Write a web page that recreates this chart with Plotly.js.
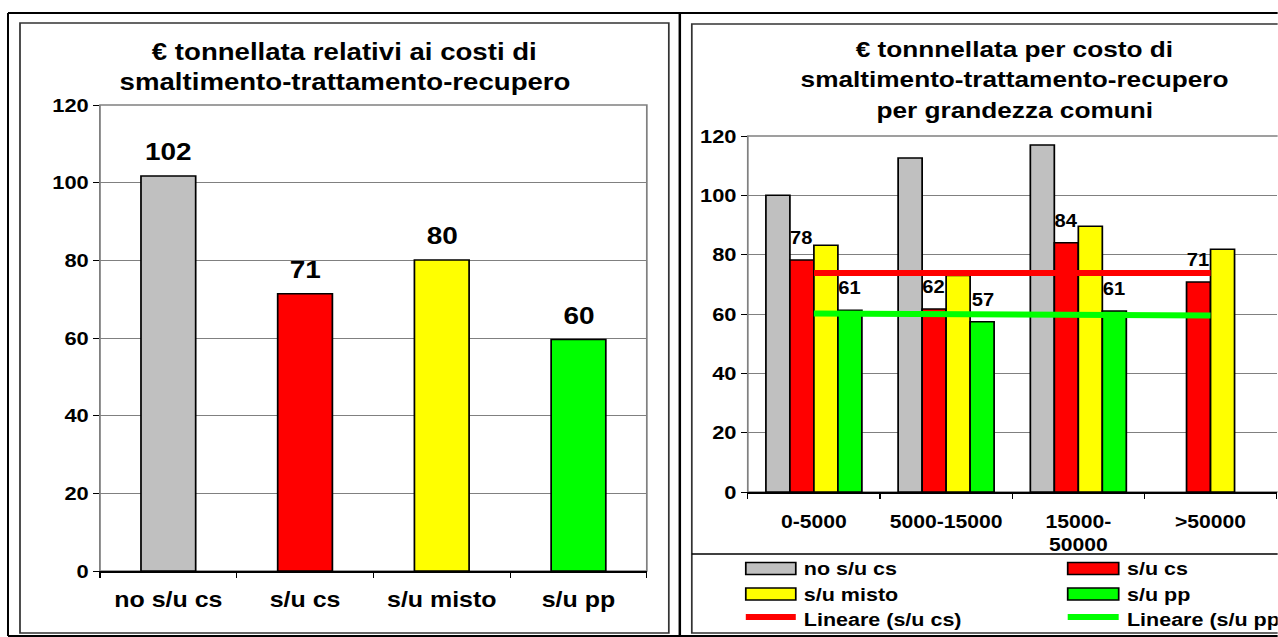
<!DOCTYPE html>
<html><head><meta charset="utf-8">
<script src="https://cdn.plot.ly/plotly-3.0.1.min.js"></script>
<style>
html,body{margin:0;padding:0;background:#fff;overflow:hidden;width:1278px;height:637px}
#chart{height:637px;transform-origin:0 0;}
</style></head><body><div id="chart"></div>
<script>
// horizontal stretch of the original picture
const STRETCH = 1.15;
const PAGE_W = 1278, PAGE_H = 637;
const W = PAGE_W / STRETCH;
const FONT = 'Liberation Sans, Arial, sans-serif';

// ---- left chart data ----
const leftTitleLines = ['€ tonnellata relativi ai costi di', 'smaltimento-trattamento-recupero'];
const leftCategories = ['no s/u cs', 's/u cs', 's/u misto', 's/u pp'];
const leftValues = [101.7, 71.4, 80.1, 59.6];
const leftColors = ['#C0C0C0', '#FF0000', '#FFFF00', '#00FF00'];

// ---- right chart data ----
const rightTitleLines = ['€ tonnnellata per costo di', 'smaltimento-trattamento-recupero', 'per grandezza comuni'];
const sizeCategories = ['0-5000', '5000-15000', '15000-<br>50000', '>50000'];
const noSuCs = [100, 112.6, 117, null];
const suCs = [78.2, 61.7, 84.0, 70.8];
const suMisto = [83.2, 73, 89.6, 81.8];
const suPp = [61.3, 57.4, 61.0, null];
const trendSuCs = [73.8, 73.8];   // Lineare (s/u cs) at first / last category
const trendSuPp = [60.2, 59.5];   // Lineare (s/u pp) at first / last category
const yTicks = [0, 20, 40, 60, 80, 100, 120];

const seriesNames = ['no s/u cs', 's/u cs', 's/u misto', 's/u pp', 'Lineare (s/u cs)', 'Lineare (s/u pp)'];
const seriesColors = ['#C0C0C0', '#FF0000', '#FFFF00', '#00FF00', '#FF0000', '#00FF00'];

document.getElementById('chart').style.width = W + 'px';
document.getElementById('chart').style.transform = 'scaleX(' + STRETCH + ')';

const fx = x => x / PAGE_W;
const fy = y => 1 - y / PAGE_H;
const bold = (size) => ({size: size, family: FONT, weight: 700, color: '#000'});

const barLine = {color: '#000', width: 1.5};
const traces = [];
traces.push({type: 'bar', x: leftCategories, y: leftValues, width: 0.4,
  marker: {color: leftColors, line: barLine}, xaxis: 'x', yaxis: 'y', hoverinfo: 'skip'});
const rightSeries = [noSuCs, suCs, suMisto, suPp];
rightSeries.forEach((vals, i) => {
  traces.push({type: 'bar', name: seriesNames[i], x: sizeCategories, y: vals,
    marker: {color: seriesColors[i], line: barLine}, xaxis: 'x2', yaxis: 'y2', hoverinfo: 'skip'});
});
traces.push({type: 'scatter', mode: 'lines', name: seriesNames[4],
  x: [sizeCategories[0], sizeCategories[sizeCategories.length - 1]], y: trendSuCs,
  line: {color: seriesColors[4], width: 6}, xaxis: 'x2', yaxis: 'y2', hoverinfo: 'skip'});
traces.push({type: 'scatter', mode: 'lines', name: seriesNames[5],
  x: [sizeCategories[0], sizeCategories[sizeCategories.length - 1]], y: trendSuPp,
  line: {color: seriesColors[5], width: 6}, xaxis: 'x2', yaxis: 'y2', hoverinfo: 'skip'});

const BARGAP = 0.274;
const dom1 = [fx(100), fx(647)], dom2 = [fx(748), fx(1277)];
const annotations = [];
// titles (one annotation per line to control line spacing)
const leftTitleY = [52, 82];
leftTitleLines.forEach((t, i) => annotations.push({xref: 'paper', yref: 'paper', x: fx(345), y: fy(leftTitleY[i]),
  xanchor: 'center', yanchor: 'middle', text: t, showarrow: false, font: bold(24)}));
const rightTitleY = [49, 79.5, 110];
rightTitleLines.forEach((t, i) => annotations.push({xref: 'paper', yref: 'paper', x: fx(1015), y: fy(rightTitleY[i]),
  xanchor: 'center', yanchor: 'middle', text: t, showarrow: false, font: bold(22.8)}));
// left value labels
leftValues.forEach((v, i) => annotations.push({xref: 'x', yref: 'y', x: leftCategories[i], y: v,
  text: String(Math.round(v)), showarrow: false, yanchor: 'bottom', yshift: 9, font: bold(24.3)}));
// right value labels (s/u cs and s/u pp)
const catW = (dom2[1] - dom2[0]) * W / sizeCategories.length;
const barW = catW * (1 - BARGAP) / 4;
[[suCs, 1], [suPp, 3]].forEach(([vals, slot]) => {
  vals.forEach((v, i) => {
    if (v == null) return;
    annotations.push({xref: 'x2', yref: 'y2', x: sizeCategories[i], y: v,
      xshift: (slot - 1.5) * barW, text: String(Math.round(v)), showarrow: false,
      yanchor: 'bottom', yshift: 10, font: bold(17.5)});
  });
});

// custom legend
const shapes = [];
const legRows = [568.5, 594, 619];
const legSym = [[746, 796], [1068, 1119]];
const legText = [802, 1125];
seriesNames.forEach((n, i) => {
  const col = i % 2, row = Math.floor(i / 2);
  const yc = legRows[row];
  if (i < 4) {
    shapes.push({type: 'rect', xref: 'paper', yref: 'paper', x0: fx(legSym[col][0]), x1: fx(legSym[col][1]),
      y0: fy(yc + 6), y1: fy(yc - 6), fillcolor: seriesColors[i], line: {color: '#000', width: 1.5}});
  } else {
    shapes.push({type: 'line', xref: 'paper', yref: 'paper', x0: fx(legSym[col][0]), x1: fx(legSym[col][1]),
      y0: fy(yc - 2), y1: fy(yc - 2), line: {color: seriesColors[i], width: 6}});
  }
  annotations.push({xref: 'paper', yref: 'paper', x: fx(legText[col]), y: fy(yc), xanchor: 'left', yanchor: 'middle',
    text: n, showarrow: false, font: bold(18.7)});
});

// frames
const vw = w => w / STRETCH;
shapes.push({type: 'line', xref: 'paper', yref: 'paper', x0: fx(8), x1: 1.2, y0: fy(13), y1: fy(13), line: {color: '#000', width: 2}});
shapes.push({type: 'line', xref: 'paper', yref: 'paper', x0: fx(8), x1: fx(8), y0: fy(13), y1: fy(636), line: {color: '#000', width: vw(2)}});
shapes.push({type: 'line', xref: 'paper', yref: 'paper', x0: fx(680), x1: fx(680), y0: fy(13), y1: fy(640), line: {color: '#000', width: vw(2.5)}});
shapes.push({type: 'line', xref: 'paper', yref: 'paper', x0: fx(8), x1: 1.2, y0: fy(636), y1: fy(636), line: {color: '#000', width: 2}});
shapes.push({type: 'rect', xref: 'paper', yref: 'paper', x0: fx(20), x1: fx(669), y0: fy(633), y1: fy(23), line: {color: '#333', width: 1.5}});
shapes.push({type: 'rect', xref: 'paper', yref: 'paper', x0: fx(692), x1: 1.2, y0: fy(633), y1: fy(24), line: {color: '#333', width: 1.5}});
shapes.push({type: 'line', xref: 'paper', yref: 'paper', x0: fx(692), x1: 1.2, y0: fy(554), y1: fy(554), line: {color: '#000', width: 1.5}});
// plot area borders
shapes.push({type: 'rect', xref: 'x domain', yref: 'y domain', x0: 0, x1: 1, y0: 0, y1: 1, line: {color: '#808080', width: 1.5}, layer: 'below'});
shapes.push({type: 'rect', xref: 'x2 domain', yref: 'y2 domain', x0: 0, x1: 1.5, y0: 0, y1: 1, line: {color: '#808080', width: 1.5}, layer: 'below'});

const xAx = (dom, anchor, fs, standoff) => ({domain: dom, anchor: anchor, type: 'category', showgrid: false,
  linecolor: '#000', linewidth: 1.5, ticks: 'outside', ticklen: 5, tickcolor: '#000', tickwidth: 1,
  tickson: 'boundaries', tickfont: bold(fs),
  ticklabelstandoff: standoff, fixedrange: true, zeroline: false});
const yAx = (dom, anchor) => ({domain: dom, anchor: anchor, range: [0, 120], tickvals: yTicks,
  showgrid: true, gridcolor: '#808080', gridwidth: 1, showline: true, linecolor: '#808080', linewidth: 1,
  ticks: 'outside', ticklen: 5, tickcolor: '#000', tickfont: bold(19),
  zeroline: false, fixedrange: true});

const layout = {
  width: W, height: PAGE_H, margin: {l: 0, r: 0, t: 0, b: 0},
  paper_bgcolor: '#fff', plot_bgcolor: '#fff', showlegend: false,
  barmode: 'group', bargap: BARGAP, bargroupgap: 0,
  font: {family: FONT, color: '#000'},
  xaxis: xAx(dom1, 'y', 21.7, 8),
  yaxis: yAx([fy(571), fy(105)], 'x'),
  xaxis2: xAx(dom2, 'y2', 18.4, 12),
  yaxis2: yAx([fy(492), fy(136)], 'x2'),
  annotations: annotations, shapes: shapes
};
Plotly.newPlot('chart', traces, layout, {staticPlot: true, displayModeBar: false});
</script></body></html>
